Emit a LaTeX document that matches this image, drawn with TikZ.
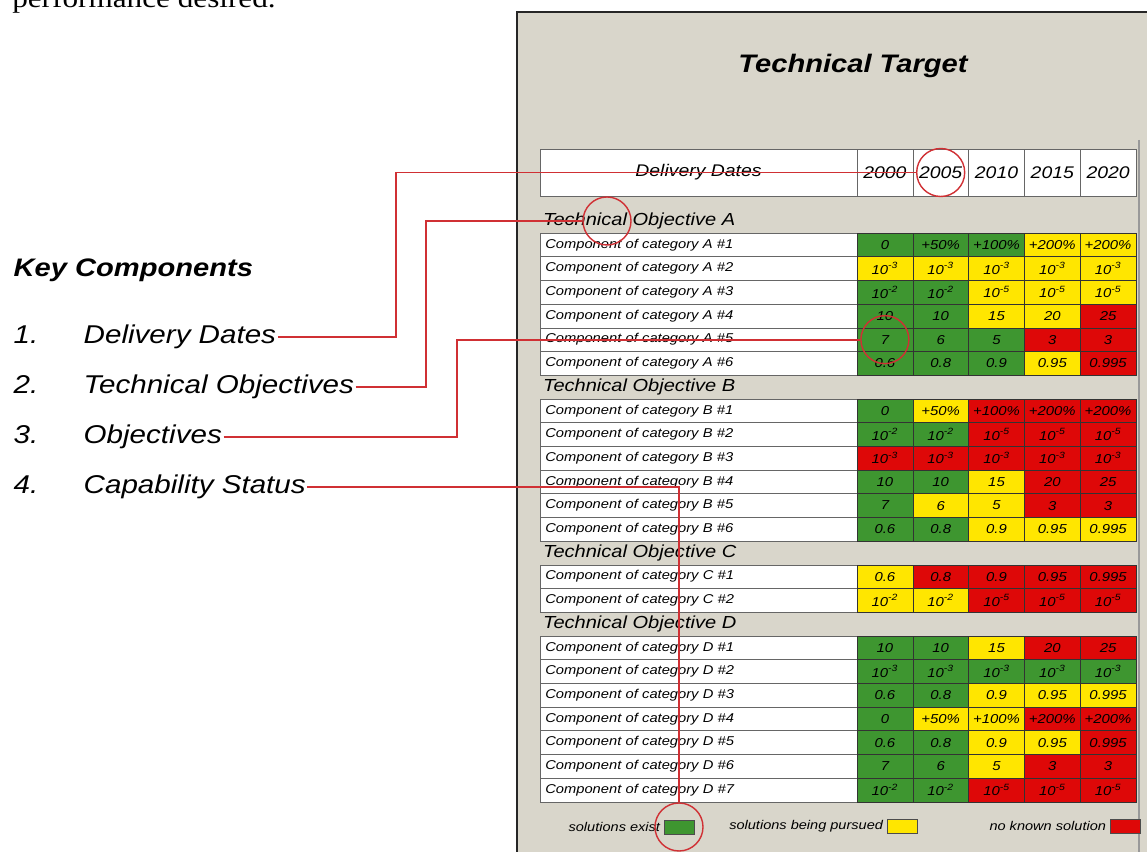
\documentclass[tikz,border=0pt]{standalone}
\usepackage{fontspec}
\setmainfont{Liberation Sans}[FakeStretch=1.15]
\newfontfamily\pagefont{Liberation Serif}[FakeStretch=1.15]
\usepackage{xcolor}
\usetikzlibrary{positioning}
\definecolor{panelbg}{RGB}{217,214,203}
\definecolor{G}{RGB}{62,150,48}
\definecolor{Y}{RGB}{255,230,0}
\definecolor{R}{RGB}{222,8,8}
\definecolor{calloutred}{RGB}{208,48,52}
\newcommand{\tenpow}[1]{10\textsuperscript{#1}}

\begin{document}
\begin{tikzpicture}[
  x=0.025cm, y=-0.025cm,
  heading/.style={font=\bfseries\itshape\fontsize{18}{20}\selectfont, inner sep=1pt},
  keyitem/.style={font=\itshape\fontsize{18.3}{20}\selectfont, anchor=base west, inner sep=1pt},
  hdrcell/.style={draw=black!60, fill=white, minimum height=1.175cm, inner sep=0pt,
                  font=\itshape\fontsize{12}{14}\selectfont},
  objlabel/.style={anchor=west, inner sep=2pt, font=\itshape\fontsize{12.4}{14}\selectfont},
  rowlab/.style={draw=black!60, fill=white, anchor=west, minimum height=0.5925cm,
                 text width=7.675cm, inner xsep=0.125cm, inner ysep=0pt, align=left,
                 font=\itshape\fontsize{9.1}{11}\selectfont},
  cell/.style={draw=black!80, minimum width=1.395cm, minimum height=0.5925cm, inner sep=0pt,
               font=\itshape\fontsize{9.2}{11}\selectfont},
  swatch/.style={draw=black!70, minimum width=0.75cm, minimum height=0.35cm, inner sep=0pt},
  legtext/.style={font=\itshape\fontsize{9}{11}\selectfont, inner sep=1pt},
  ring/.style={draw=calloutred, circle, minimum size=1.2cm, line width=1pt},
  callout/.style={draw=calloutred, line width=1.4pt}
]
  \useasboundingbox (0,0) rectangle (1147,852);

  % page text cut at the top
  \node[font=\pagefont\fontsize{19.3}{22}\selectfont, anchor=base west, inner sep=0pt] (pagetext) at (12,8) {performance desired.};

  % panel
  \fill[panelbg] (517,12) rectangle (1147,852);
  \draw[line width=1.6pt, black!85] (517,852) -- (517,12) -- (1147,12);
  \draw[black!40, line width=0.8pt] (1139,140) -- (1139,852);

  \node[heading] (title) at (853,66) {Technical Target};

  % key components
  \node[heading, anchor=west] (keyhead) at (12,270) {Key Components};
  \foreach \n/\txt/\yy in {1/Delivery Dates/344, 2/Technical Objectives/394,
                           3/Objectives/444, 4/Capability Status/494}{
    \node[keyitem] (num\n) at (12,\yy) {\n.};
    \node[keyitem] (item\n) at (82,\yy) {\txt};
  }

  % header row
  \node[hdrcell, minimum width=7.925cm] (dates) at (698.5,172.5) {Delivery Dates};
  \foreach \yr [count=\j] in {2000,2005,2010,2015,2020}
    \node[hdrcell, minimum width=1.395cm] (yr\yr) at ({857+(\j-0.5)*55.8},172.5) {\yr};

  \foreach \obj/\k in {A/0,B/7,C/14,D/17}
    \node[objlabel] (obj\obj) at (540,{221.15+23.7*\k}) {Technical Objective \obj};

  % component rows
  \foreach \k/\lab/\cells in {
    1/A \#1/{G/0,G/+50\%,G/+100\%,Y/+200\%,Y/+200\%},
    2/A \#2/{Y/\tenpow{-3},Y/\tenpow{-3},Y/\tenpow{-3},Y/\tenpow{-3},Y/\tenpow{-3}},
    3/A \#3/{G/\tenpow{-2},G/\tenpow{-2},Y/\tenpow{-5},Y/\tenpow{-5},Y/\tenpow{-5}},
    4/A \#4/{G/10,G/10,Y/15,Y/20,R/25},
    5/A \#5/{G/7,G/6,G/5,R/3,R/3},
    6/A \#6/{G/0.6,G/0.8,G/0.9,Y/0.95,R/0.995},
    8/B \#1/{G/0,Y/+50\%,R/+100\%,R/+200\%,R/+200\%},
    9/B \#2/{G/\tenpow{-2},G/\tenpow{-2},R/\tenpow{-5},R/\tenpow{-5},R/\tenpow{-5}},
    10/B \#3/{R/\tenpow{-3},R/\tenpow{-3},R/\tenpow{-3},R/\tenpow{-3},R/\tenpow{-3}},
    11/B \#4/{G/10,G/10,Y/15,R/20,R/25},
    12/B \#5/{G/7,Y/6,Y/5,R/3,R/3},
    13/B \#6/{G/0.6,G/0.8,Y/0.9,Y/0.95,Y/0.995},
    15/C \#1/{Y/0.6,R/0.8,R/0.9,R/0.95,R/0.995},
    16/C \#2/{Y/\tenpow{-2},Y/\tenpow{-2},R/\tenpow{-5},R/\tenpow{-5},R/\tenpow{-5}},
    18/D \#1/{G/10,G/10,Y/15,R/20,R/25},
    19/D \#2/{G/\tenpow{-3},G/\tenpow{-3},G/\tenpow{-3},G/\tenpow{-3},G/\tenpow{-3}},
    20/D \#3/{G/0.6,G/0.8,Y/0.9,Y/0.95,Y/0.995},
    21/D \#4/{G/0,Y/+50\%,Y/+100\%,R/+200\%,R/+200\%},
    22/D \#5/{G/0.6,G/0.8,Y/0.9,Y/0.95,R/0.995},
    23/D \#6/{G/7,G/6,Y/5,R/3,R/3},
    24/D \#7/{G/\tenpow{-2},G/\tenpow{-2},R/\tenpow{-5},R/\tenpow{-5},R/\tenpow{-5}}}{
    \node[rowlab] (lab\k) at (540,{221.15+23.7*\k}) {Component of category \lab};
    \foreach \col/\val [count=\j] in \cells
      \node[cell, fill=\col] (c\k-\j) at ({857+(\j-0.5)*55.8},{221.15+23.7*\k}) {\val};
  }

  % legend
  \node[swatch, fill=G] (sexist) at (679,827) {};
  \node[legtext, left=0.05cm of sexist] (lexist) {solutions exist};
  \node[swatch, fill=Y] (spursued) at (902,826) {};
  \node[legtext, left=0.05cm of spursued] (lpursued) {solutions being pursued};
  \node[swatch, fill=R] (snone) at (1125,826) {};
  \node[legtext, left=0.05cm of snone] (lnone) {no known solution};

  % callouts
  \node[ring] (ring1) at (yr2005) {};
  \node[ring] (ring2) at (607,221) {};
  \node[ring] (ring3) at (c5-1) {};
  \node[ring] (ring4) at (sexist) {};
  \coordinate (bend1) at (396,250);
  \coordinate (bend2) at (426,300);
  \coordinate (bend3) at (457,400);

  \draw[callout] (item1.east) -| (bend1) |- (ring1.west);
  \draw[callout] (item2.east) -| (bend2) |- (ring2.west);
  \draw[callout] (item3.east) -| (bend3) |- (ring3.west);
  \draw[callout] (item4.east) -| (ring4.north);
\end{tikzpicture}
\end{document}
